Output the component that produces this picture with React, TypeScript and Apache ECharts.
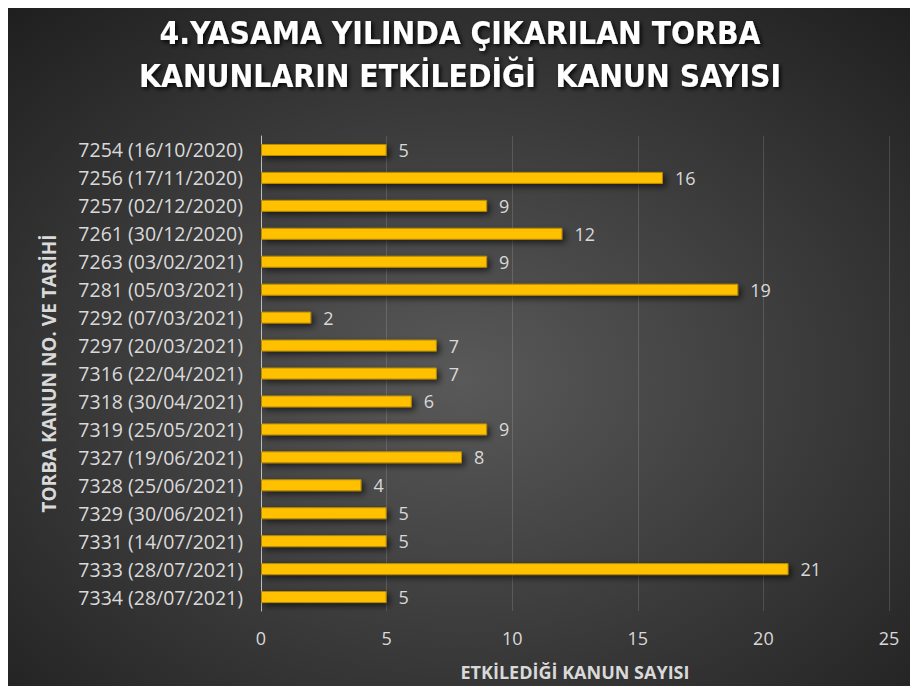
import React, { useEffect, useRef } from "react";
import * as echarts from "echarts";

const categories = [
  "7254 (16/10/2020)",
  "7256 (17/11/2020)",
  "7257 (02/12/2020)",
  "7261 (30/12/2020)",
  "7263 (03/02/2021)",
  "7281 (05/03/2021)",
  "7292 (07/03/2021)",
  "7297 (20/03/2021)",
  "7316 (22/04/2021)",
  "7318 (30/04/2021)",
  "7319 (25/05/2021)",
  "7327 (19/06/2021)",
  "7328 (25/06/2021)",
  "7329 (30/06/2021)",
  "7331 (14/07/2021)",
  "7333 (28/07/2021)",
  "7334 (28/07/2021)",
];
const values = [5, 16, 9, 12, 9, 19, 2, 7, 7, 6, 9, 8, 4, 5, 5, 21, 5];

const titleLines = ["4.YASAMA YILINDA ÇIKARILAN TORBA", "KANUNLARIN ETKİLEDİĞİ  KANUN SAYISI"];
const xAxisName = "ETKİLEDİĞİ KANUN SAYISI";
const yAxisName = "TORBA KANUN NO. VE TARİHİ";

const FONT = "'Open Sans', 'DejaVu Sans', sans-serif";
const TITLE_FONT = "'Liberation Sans Narrow', 'DejaVu Sans Condensed', 'Open Sans', sans-serif";

export default function App() {
  const ref = useRef<HTMLDivElement>(null);
  useEffect(() => {
    if (!ref.current) return;
    const chart = echarts.init(ref.current, undefined, { renderer: "svg" });
    chart.setOption({
      animation: false,
      backgroundColor: {
        type: "radial",
        x: 0.5,
        y: 0.55,
        r: 0.75,
        colorStops: [
          { offset: 0, color: "#595959" },
          { offset: 1, color: "#1e1e1e" },
        ],
      },
      title: {
        text: titleLines.join("\n"),
        left: 447,
        textAlign: "center",
        top: 1,
        textStyle: {
          color: "#ffffff",
          fontFamily: TITLE_FONT,
          fontWeight: "bold",
          fontSize: 31.5,
          lineHeight: 43,
          textShadowColor: "rgba(0,0,0,0.9)",
          textShadowBlur: 4,
          textShadowOffsetX: 2,
          textShadowOffsetY: 2,
        },
      },
      grid: { left: 253, right: 29, top: 131, bottom: 66, containLabel: false },
      xAxis: {
        type: "value",
        min: 0,
        max: 25,
        interval: 5,
        name: xAxisName,
        nameLocation: "middle",
        nameGap: 52,
        nameTextStyle: { color: "#d9d9d9", fontFamily: FONT, fontWeight: "bold", fontSize: 18 },
        axisLine: { show: false },
        axisTick: { show: false },
        axisLabel: { color: "#d9d9d9", fontFamily: FONT, fontSize: 18, margin: 18 },
        splitLine: { lineStyle: { color: "rgba(255,255,255,0.14)", width: 1 } },
      },
      yAxis: {
        type: "category",
        data: categories,
        inverse: true,
        name: yAxisName,
        nameLocation: "middle",
        nameRotate: 90,
        nameGap: 203,
        nameTextStyle: { color: "#d9d9d9", fontFamily: FONT, fontWeight: "bold", fontSize: 19 },
        axisLine: { show: true, lineStyle: { color: "#bfbfbf", width: 1 } },
        axisTick: { show: false },
        axisLabel: { color: "#d9d9d9", fontFamily: FONT, fontSize: 19.5, margin: 18 },
        splitLine: { show: false },
      },
      series: [
        {
          type: "bar",
          data: values,
          barWidth: 12,
          itemStyle: {
            color: "#FFC000",
            borderColor: "#b88a00",
            borderWidth: 1,
            shadowColor: "rgba(0,0,0,0.6)",
            shadowBlur: 6,
            shadowOffsetX: 3,
            shadowOffsetY: 3,
          },
          label: {
            show: true,
            position: "right",
            distance: 12,
            color: "#d9d9d9",
            fontFamily: FONT,
            fontSize: 18,
          },
        },
      ],
    });
    return () => chart.dispose();
  }, []);
  return (
    <div
      ref={ref}
      style={{
        width: 910,
        height: 682,
        marginTop: -4,
        borderTop: "1px solid #9a9a9a",
        boxSizing: "border-box",
      }}
    />
  );
}
